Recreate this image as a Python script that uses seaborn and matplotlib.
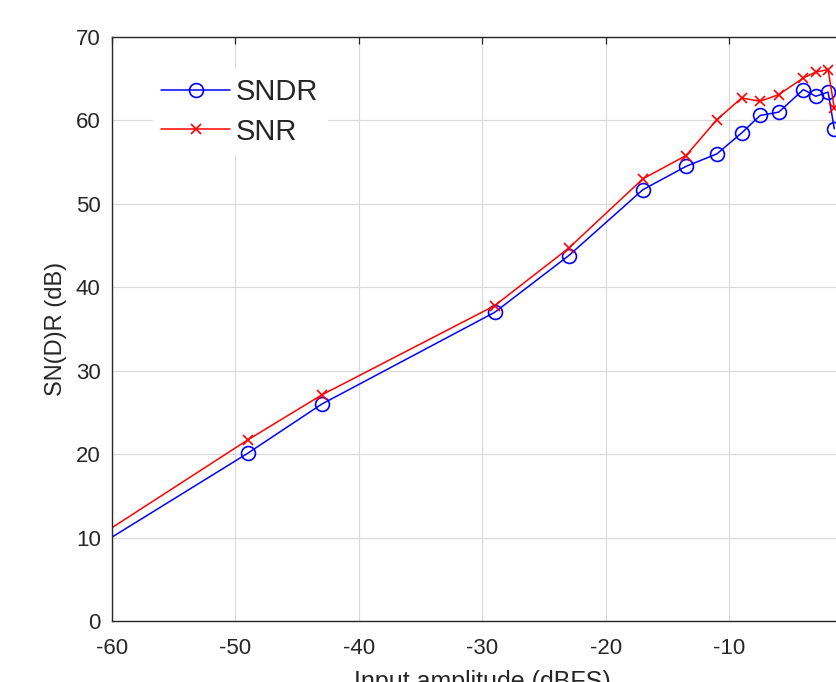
import matplotlib
matplotlib.use("Agg")
import matplotlib.pyplot as plt
import seaborn as sns
import pandas as pd

# Data
amplitude = [-70, -49, -43, -29, -23, -17, -13.5, -11, -9, -7.5, -6, -4, -3, -2, -1.5]
sndr = [0.9, 20.1, 26.0, 37.0, 43.8, 51.7, 54.5, 56.0, 58.5, 60.6, 61.0, 63.7, 62.9, 63.4, 59.0]
snr = [1.6, 21.7, 27.1, 37.8, 44.7, 53.0, 55.8, 60.1, 62.7, 62.3, 63.1, 65.1, 65.8, 66.1, 61.5]
x_ticks = [-60, -50, -40, -30, -20, -10]
y_ticks = [0, 10, 20, 30, 40, 50, 60, 70]

sns.set_style("white")
plt.rcParams["font.family"] = ["Liberation Sans", "DejaVu Sans"]
plt.rcParams["axes.unicode_minus"] = False

df = pd.DataFrame({"amp": amplitude, "SNDR": sndr, "SNR": snr})

fig = plt.figure(figsize=(8.36, 6.82), dpi=100)
ax = fig.add_axes([0.1337, 0.0894, 0.8864, 0.8563])

sns.lineplot(data=df, x="amp", y="SNDR", ax=ax, color=(0, 0, 1), sort=False,
             marker="o", markersize=10, markerfacecolor="none",
             markeredgecolor=(0, 0, 1), markeredgewidth=1.2, linewidth=1.1,
             label="SNDR")
sns.lineplot(data=df, x="amp", y="SNR", ax=ax, color=(1, 0, 0), sort=False,
             marker="x", markersize=6.5, markeredgecolor=(1, 0, 0),
             markeredgewidth=1.2, linewidth=1.1, label="SNR")

ax.set_xlim(-60, 0)
ax.set_ylim(0, 70)
ax.set_xticks(x_ticks)
ax.set_yticks(y_ticks)
ax.grid(True, color=(0.85, 0.85, 0.85), linewidth=0.8)
ax.set_axisbelow(True)

for s in ax.spines.values():
    s.set_color((0.15, 0.15, 0.15))
    s.set_linewidth(1.0)

ax.tick_params(axis="both", which="major", direction="in", length=5,
               width=0.9, color=(0.15, 0.15, 0.15), labelcolor=(0.15, 0.15, 0.15),
               labelsize=16, top=True, right=True)
ax.tick_params(axis="x", pad=12)
ax.tick_params(axis="y", pad=8)

ax.set_xlabel("Input amplitude (dBFS)", fontsize=18, color=(0.15, 0.15, 0.15), labelpad=8)
ax.set_ylabel("SN(D)R (dB)", fontsize=17, color=(0.15, 0.15, 0.15), labelpad=6)

leg = ax.legend(loc="upper left", bbox_to_anchor=(0.055, 0.945), fontsize=21,
                frameon=True, fancybox=False, edgecolor="white", facecolor="white",
                framealpha=1, handlelength=2.35, handletextpad=0.2,
                labelspacing=0.4, borderpad=0.3, borderaxespad=0)

fig.savefig("out.png", dpi=100)
